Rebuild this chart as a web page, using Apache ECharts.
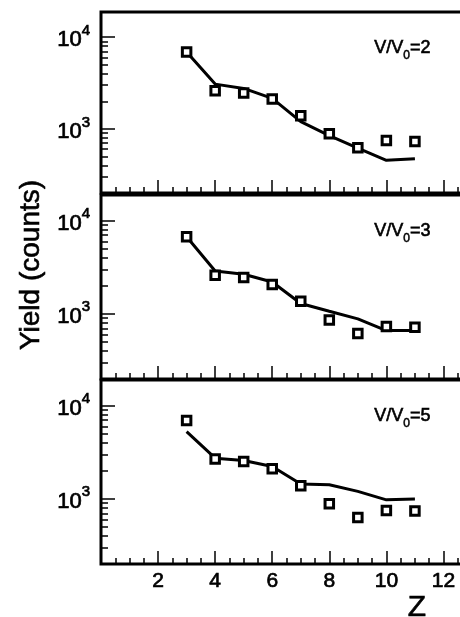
<!DOCTYPE html>
<html>
<head>
<meta charset="utf-8">
<script src="https://cdn.jsdelivr.net/npm/echarts@6/dist/echarts.min.js"></script>
<style>
html,body{margin:0;padding:0;background:#fff;}
#chart{width:460px;height:617px;}
</style>
</head>
<body>
<div id="chart"></div>
<script>
// ---- data ----
const zValues = [3, 4, 5, 6, 7, 8, 9, 10, 11];
const panelLabels = ['2', '3', '5'];
const exp2 = [6880, 2600, 2455, 2115, 1394, 883, 622, 747, 728];
const calc2 = [6880, 3076, 2762, 2152, 1200, 846, 618, 454, 473];
const exp3 = [6710, 2594, 2449, 2057, 1367, 861, 617, 729, 716];
const calc3 = [6710, 2884, 2655, 2194, 1291, 1067, 883, 661, 661];
const exp5 = [6900, 2665, 2512, 2100, 1378, 884, 630, 750, 739];
const calc5 = [5260, 2730, 2578, 2219, 1439, 1417, 1202, 975, 993];
const xTickLabels = [2, 4, 6, 8, 10, 12];
const yMajorTicks = [1000, 10000];
const yMinorTicks = [300, 400, 500, 600, 700, 800, 900, 2000, 3000, 4000, 5000, 6000, 7000, 8000, 9000];

const expSets = [exp2, exp3, exp5];
const calcSets = [calc2, calc3, calc5];

const FONT = 'Liberation Sans, Arial, sans-serif';
const INK = { textBorderColor: '#000', textBorderWidth: 0.7 };
const grids = [
  { left: 101, width: 371, top: 12, height: 181 },
  { left: 101, width: 371, top: 195, height: 184 },
  { left: 101, width: 371, top: 380, height: 184 }
];

const chart = echarts.init(document.getElementById('chart'), null, { renderer: 'canvas' });

const option = {
  animation: false,
  backgroundColor: '#fff',
  grid: grids.map(g => Object.assign({
    show: true, borderColor: '#000', borderWidth: 3, backgroundColor: 'transparent',
    outerBoundsMode: 'none', containLabel: false
  }, g)),
  xAxis: grids.map((g, i) => ({
    type: 'value', gridIndex: i, min: 0, max: 13, interval: 2,
    axisLine: { show: false },
    splitLine: { show: false },
    axisTick: { show: true, inside: true, length: 13, lineStyle: { color: '#000', width: 1.5 } },
    minorTick: { show: true, splitNumber: 4, length: 6, lineStyle: { color: '#000', width: 1.5 } },
    axisLabel: Object.assign({
      show: i === 2, margin: 7, color: '#000', fontSize: 21, fontFamily: FONT,
      customValues: xTickLabels,
      formatter: v => String(v)
    }, INK)
  })),
  yAxis: [],
  series: [],
  graphic: []
};

grids.forEach((g, i) => {
  option.yAxis.push({
    type: 'log', logBase: 10, gridIndex: i, min: 200, max: 18800, position: 'left',
    axisLine: { show: false }, splitLine: { show: false },
    axisTick: { show: true, inside: true, length: 14, customValues: yMajorTicks, lineStyle: { color: '#000', width: 1.5 } },
    minorTick: { show: false },
    axisLabel: {
      show: true, margin: 11, customValues: yMajorTicks,
      formatter: v => '{b|10}{s|' + Math.round(Math.log10(v)) + '}',
      rich: {
        b: Object.assign({ fontSize: 22, fontFamily: FONT, color: '#000', lineHeight: 28, verticalAlign: 'bottom' }, INK),
        s: Object.assign({ fontSize: 15, fontFamily: FONT, color: '#000', lineHeight: 16, verticalAlign: 'top' }, INK)
      }
    }
  });
  option.yAxis.push({
    type: 'log', logBase: 10, gridIndex: i, min: 200, max: 18800, position: 'left',
    axisLine: { show: false }, splitLine: { show: false },
    axisTick: { show: true, inside: true, length: 7, customValues: yMinorTicks, lineStyle: { color: '#000', width: 1.5 } },
    axisLabel: { show: false }
  });
  option.series.push({
    type: 'line', xAxisIndex: i, yAxisIndex: 2 * i,
    data: zValues.map((z, k) => [z, calcSets[i][k]]),
    showSymbol: false, symbol: 'none',
    lineStyle: { color: '#000', width: 3 }, z: 3
  });
  option.series.push({
    type: 'scatter', xAxisIndex: i, yAxisIndex: 2 * i,
    data: zValues.map((z, k) => [z, expSets[i][k]]),
    symbol: 'rect', symbolSize: 8.5,
    itemStyle: { color: '#fff', borderColor: '#000', borderWidth: 3, opacity: 1 }, z: 4
  });
  option.graphic.push({
    type: 'text', left: 374, top: g.top + 27,
    style: {
      text: '{a|V/V}{s|0}{a|=' + panelLabels[i] + '}',
      rich: {
        a: { fontSize: 18, fontFamily: FONT, fill: '#000', lineHeight: 22, verticalAlign: 'top', stroke: '#000', lineWidth: 0.6 },
        s: { fontSize: 12, fontFamily: FONT, fill: '#000', lineHeight: 22, verticalAlign: 'bottom', padding: [8, 0, 0, 0], stroke: '#000', lineWidth: 0.5 }
      }
    }
  });
});

option.graphic.push({
  type: 'text', x: 31, y: 265, rotation: Math.PI / 2,
  style: { text: 'Yield (counts)', fontSize: 28, fontFamily: FONT, fill: '#000', stroke: '#000', lineWidth: 0.6, align: 'center', verticalAlign: 'middle' }
});
option.graphic.push({
  type: 'text', x: 417, y: 608,
  style: { text: 'Z', fontSize: 30, fontFamily: FONT, fill: '#000', stroke: '#000', lineWidth: 0.6, align: 'center', verticalAlign: 'middle' }
});

chart.setOption(option);
</script>
</body>
</html>
